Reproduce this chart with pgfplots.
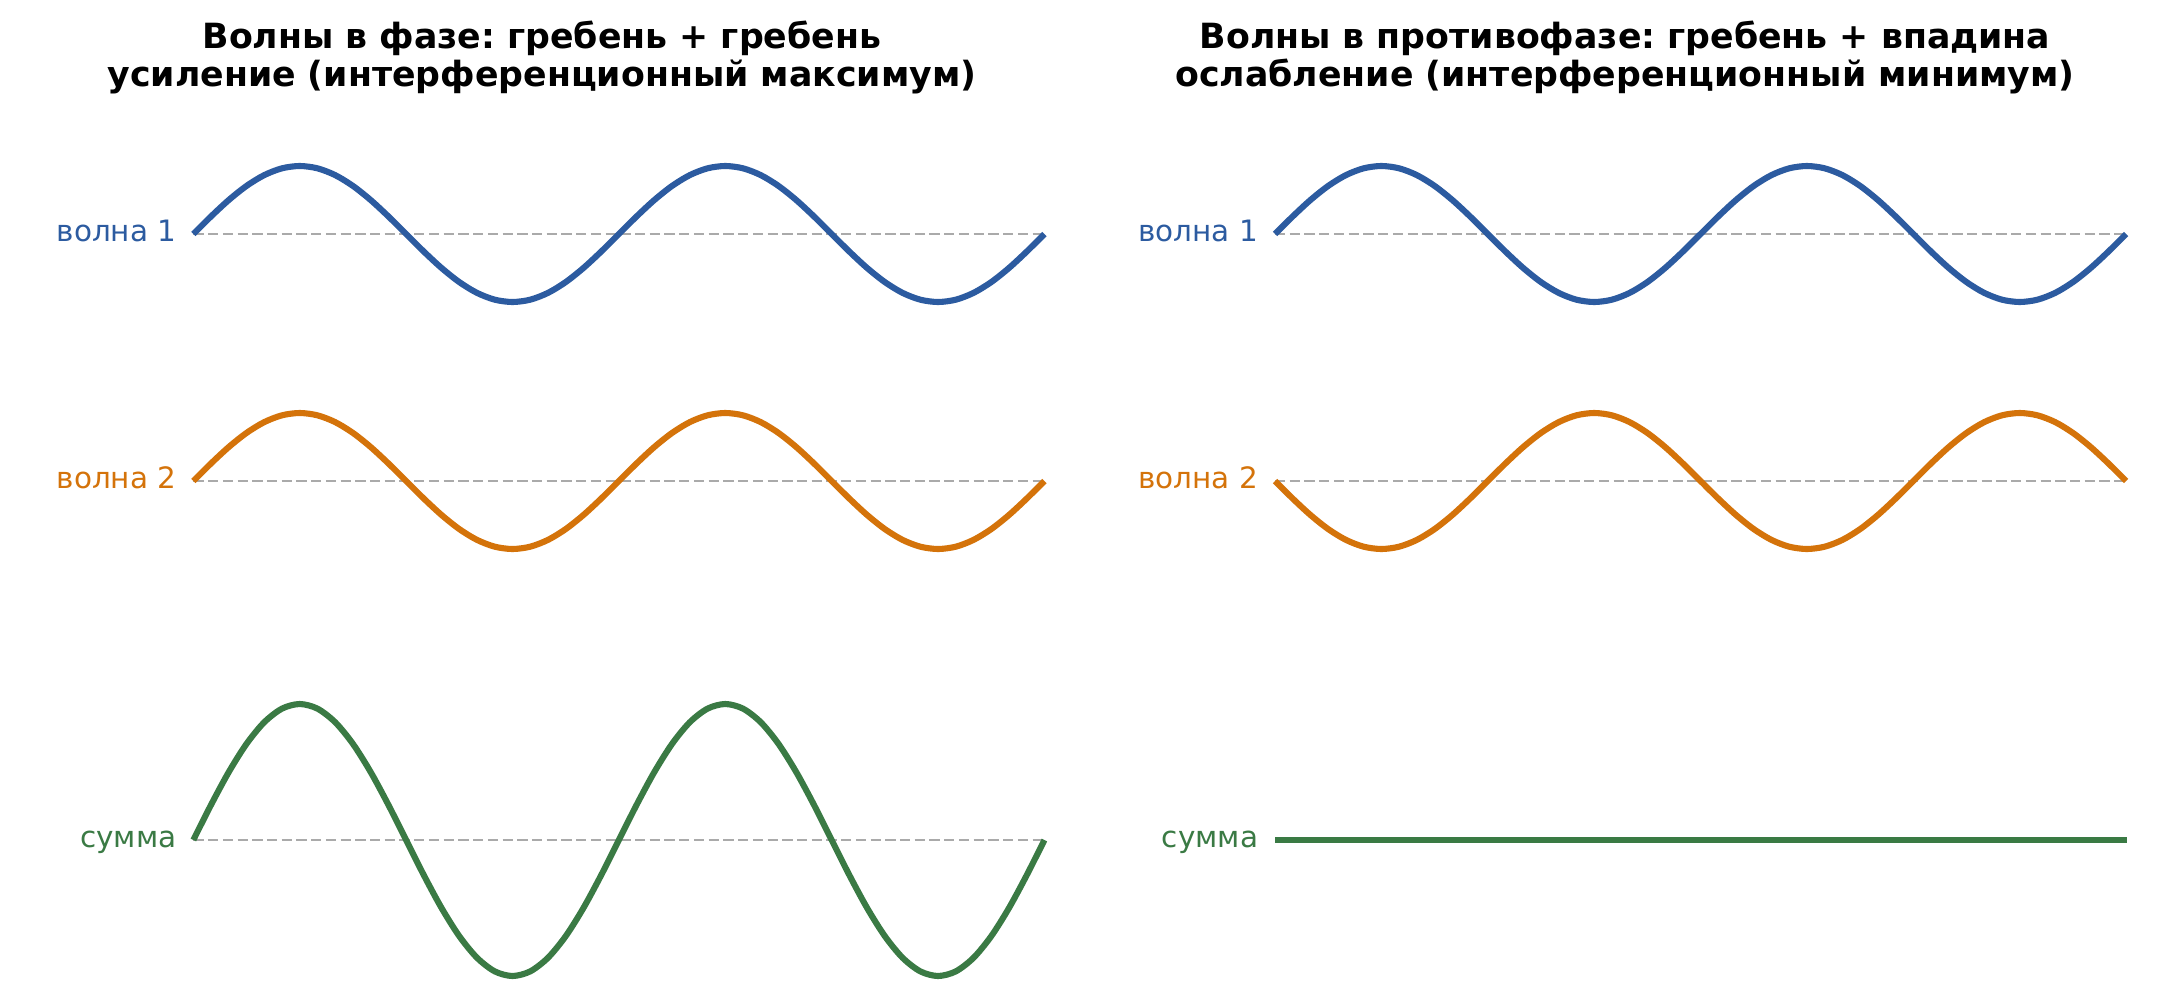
\documentclass[border=0pt]{standalone}
\usepackage{fontspec}
\setmainfont{DejaVu Sans}
\usepackage{pgfplots}
\usepackage{pgfplotstable}
\pgfplotsset{compat=1.18}
\frenchspacing

\definecolor{wblue}{RGB}{44,91,160}
\definecolor{worange}{RGB}{212,115,10}
\definecolor{wgreen}{RGB}{58,122,68}
\definecolor{zgray}{RGB}{170,170,170}

% x in degrees; a = wave, b = inverted wave, s = sum in phase, z = sum in antiphase
\pgfplotstableread{
x a b s z
0 0 0 0 0
15 0.2588 -0.2588 0.5176 0
30 0.5 -0.5 1 0
45 0.7071 -0.7071 1.4142 0
60 0.8660 -0.8660 1.7321 0
75 0.9659 -0.9659 1.9319 0
90 1 -1 2 0
105 0.9659 -0.9659 1.9319 0
120 0.8660 -0.8660 1.7321 0
135 0.7071 -0.7071 1.4142 0
150 0.5 -0.5 1 0
165 0.2588 -0.2588 0.5176 0
180 0 0 0 0
195 -0.2588 0.2588 -0.5176 0
210 -0.5 0.5 -1 0
225 -0.7071 0.7071 -1.4142 0
240 -0.8660 0.8660 -1.7321 0
255 -0.9659 0.9659 -1.9319 0
270 -1 1 -2 0
285 -0.9659 0.9659 -1.9319 0
300 -0.8660 0.8660 -1.7321 0
315 -0.7071 0.7071 -1.4142 0
330 -0.5 0.5 -1 0
345 -0.2588 0.2588 -0.5176 0
360 0 0 0 0
375 0.2588 -0.2588 0.5176 0
390 0.5 -0.5 1 0
405 0.7071 -0.7071 1.4142 0
420 0.8660 -0.8660 1.7321 0
435 0.9659 -0.9659 1.9319 0
450 1 -1 2 0
465 0.9659 -0.9659 1.9319 0
480 0.8660 -0.8660 1.7321 0
495 0.7071 -0.7071 1.4142 0
510 0.5 -0.5 1 0
525 0.2588 -0.2588 0.5176 0
540 0 0 0 0
555 -0.2588 0.2588 -0.5176 0
570 -0.5 0.5 -1 0
585 -0.7071 0.7071 -1.4142 0
600 -0.8660 0.8660 -1.7321 0
615 -0.9659 0.9659 -1.9319 0
630 -1 1 -2 0
645 -0.9659 0.9659 -1.9319 0
660 -0.8660 0.8660 -1.7321 0
675 -0.7071 0.7071 -1.4142 0
690 -0.5 0.5 -1 0
705 -0.2588 0.2588 -0.5176 0
720 0 0 0 0
}\waves

\pgfplotsset{
    row/.style={hide axis, scale only axis, clip=false,
        width=306.4pt, xmin=0, xmax=720, anchor=south west},
    single/.style={row, ymin=-1, ymax=1, height=48.96pt},
    double/.style={row, ymin=-2, ymax=2, height=97.92pt},
}
\tikzset{
    zero/.style={zgray, line width=1pt, dash pattern=on 3.7pt off 1.6pt},
    wave/.style={line width=2.2pt, smooth, line join=round},
    lbl/.style={anchor=base east, inner sep=0pt, xshift=-5.9pt, yshift=-2.8pt,
        font=\fontsize{10.6}{13}\selectfont},
    ttl/.style={anchor=base, inner sep=0pt, font=\fontsize{12.5}{15}\selectfont\bfseries},
}

\begin{document}
\begin{tikzpicture}
\path (0,0) rectangle (779.04pt,362.52pt);

% titles
\node[ttl] at (195.1pt,345.2pt) {Волны в фазе: гребень + гребень};
\node[ttl] at (195.1pt,331.5pt) {усиление (интерференционный максимум)};
\node[ttl] at (585.0pt,345.2pt) {Волны в противофазе: гребень + впадина};
\node[ttl] at (585.0pt,331.5pt) {ослабление (интерференционный минимум)};

% left panel: in phase
\begin{axis}[single, at={(69.6pt,253.8pt)}]
    \addplot[zero] coordinates {(0,0) (720,0)};
    \addplot[wave, wblue] table[x=x, y=a] {\waves};
    \node[lbl, text=wblue] at (axis cs:0,0) {волна 1};
\end{axis}
\begin{axis}[single, at={(69.6pt,164.88pt)}]
    \addplot[zero] coordinates {(0,0) (720,0)};
    \addplot[wave, worange] table[x=x, y=a] {\waves};
    \node[lbl, text=worange] at (axis cs:0,0) {волна 2};
\end{axis}
\begin{axis}[double, at={(69.6pt,11.16pt)}]
    \addplot[zero] coordinates {(0,0) (720,0)};
    \addplot[wave, wgreen] table[x=x, y=s] {\waves};
    \node[lbl, text=wgreen] at (axis cs:0,0) {сумма};
\end{axis}

% right panel: in antiphase
\begin{axis}[single, at={(459.0pt,253.8pt)}]
    \addplot[zero] coordinates {(0,0) (720,0)};
    \addplot[wave, wblue] table[x=x, y=a] {\waves};
    \node[lbl, text=wblue] at (axis cs:0,0) {волна 1};
\end{axis}
\begin{axis}[single, at={(459.0pt,164.88pt)}]
    \addplot[zero] coordinates {(0,0) (720,0)};
    \addplot[wave, worange] table[x=x, y=b] {\waves};
    \node[lbl, text=worange] at (axis cs:0,0) {волна 2};
\end{axis}
\begin{axis}[double, at={(459.0pt,11.16pt)}]
    \addplot[zero] coordinates {(0,0) (720,0)};
    \addplot[wave, wgreen] table[x=x, y=z] {\waves};
    \node[lbl, text=wgreen] at (axis cs:0,0) {сумма};
\end{axis}
\end{tikzpicture}
\end{document}
